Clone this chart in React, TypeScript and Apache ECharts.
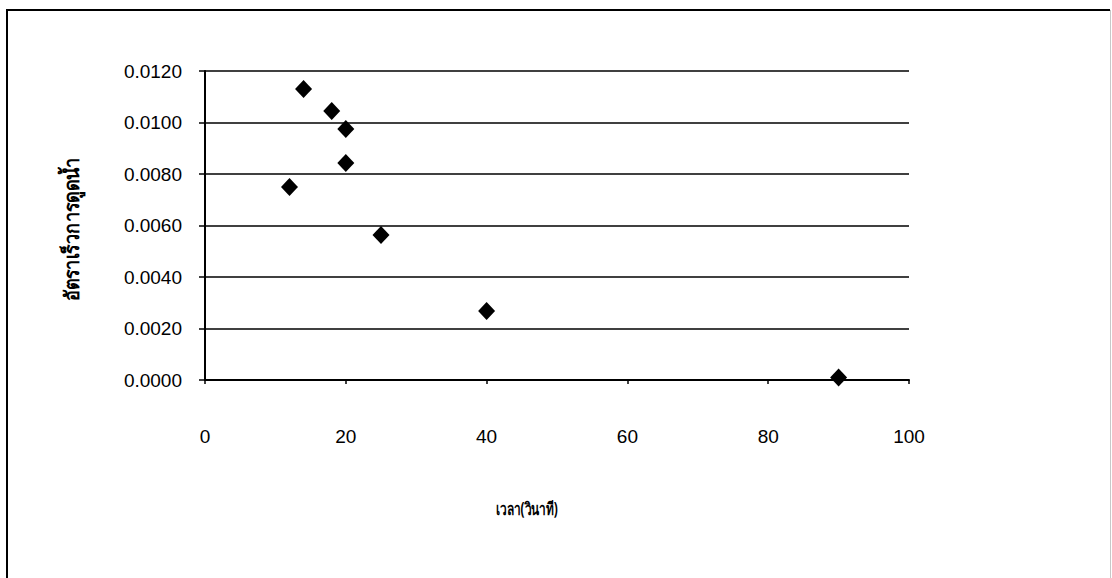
import React, { useEffect, useRef } from "react";
import * as echarts from "echarts";

const timeSeconds = [12, 14, 18, 20, 20, 25, 40, 90];
const absorptionRate = [0.0075, 0.0113, 0.01045, 0.00975, 0.00843, 0.00563, 0.00268, 0.0001];
const xTitle = "เวลา(วินาที)";
const yTitle = "อัตราเร็วการดูดน้ำ";

export default function App() {
  const ref = useRef<HTMLDivElement>(null);
  useEffect(() => {
    const chart = echarts.init(ref.current!, null, { renderer: "svg" });
    const font = "'Liberation Sans', Arial, 'Noto Sans', sans-serif";
    chart.setOption({
      animation: false,
      backgroundColor: "#ffffff",
      grid: { left: 205, right: 203, top: 71, bottom: 198 },
      xAxis: {
        type: "value",
        min: 0,
        max: 100,
        interval: 20,
        axisLine: { show: true, lineStyle: { color: "#000", width: 2 } },
        axisTick: { show: true, inside: false, length: 4, lineStyle: { color: "#000", width: 1.5 } },
        axisLabel: { margin: 47, color: "#000", fontSize: 19, fontFamily: font },
        splitLine: { show: false },
      },
      yAxis: {
        type: "value",
        min: 0,
        max: 0.012,
        interval: 0.002,
        axisLine: { show: true, lineStyle: { color: "#000", width: 2 } },
        axisTick: { show: true, inside: false, length: 6, lineStyle: { color: "#000", width: 1.5 } },
        axisLabel: {
          margin: 23,
          color: "#000",
          fontSize: 19,
          fontFamily: font,
          formatter: (v: number) => v.toFixed(4),
        },
        splitLine: { show: true, lineStyle: { color: "#000", width: 1.5 } },
      },
      graphic: [
        {
          type: "polyline",
          shape: { points: [[7, 578], [7, 10], [1110, 10]] },
          style: { stroke: "#000", lineWidth: 2, fill: null },
          silent: true,
        },
        {
          type: "line",
          shape: { x1: 1110.5, y1: 10, x2: 1110.5, y2: 578 },
          style: { stroke: "#c8c8c8", lineWidth: 1 },
          silent: true,
        },
        {
          type: "text",
          x: 527,
          y: 508,
          scaleX: 0.7,
          style: {
            text: xTitle,
            fill: "#000",
            font: "bold 17px 'Noto Sans', 'Liberation Sans', sans-serif",
            align: "center",
            verticalAlign: "middle",
          },
        },
        {
          type: "text",
          x: 72,
          y: 229,
          rotation: Math.PI / 2,
          scaleX: 0.9,
          style: {
            text: yTitle,
            fill: "#000",
            font: "bold 20px 'Noto Sans', 'Liberation Sans', sans-serif",
            align: "center",
            verticalAlign: "middle",
          },
        },
      ],
      series: [
        {
          type: "scatter",
          symbol: "diamond",
          symbolSize: [17, 18],
          itemStyle: { color: "#000", opacity: 1 },
          data: timeSeconds.map((t, i) => [t, absorptionRate[i]]),
        },
      ],
    });
    return () => chart.dispose();
  }, []);
  return <div ref={ref} style={{ width: 1112, height: 578, position: "absolute", left: 0, top: 0 }} />;
}
